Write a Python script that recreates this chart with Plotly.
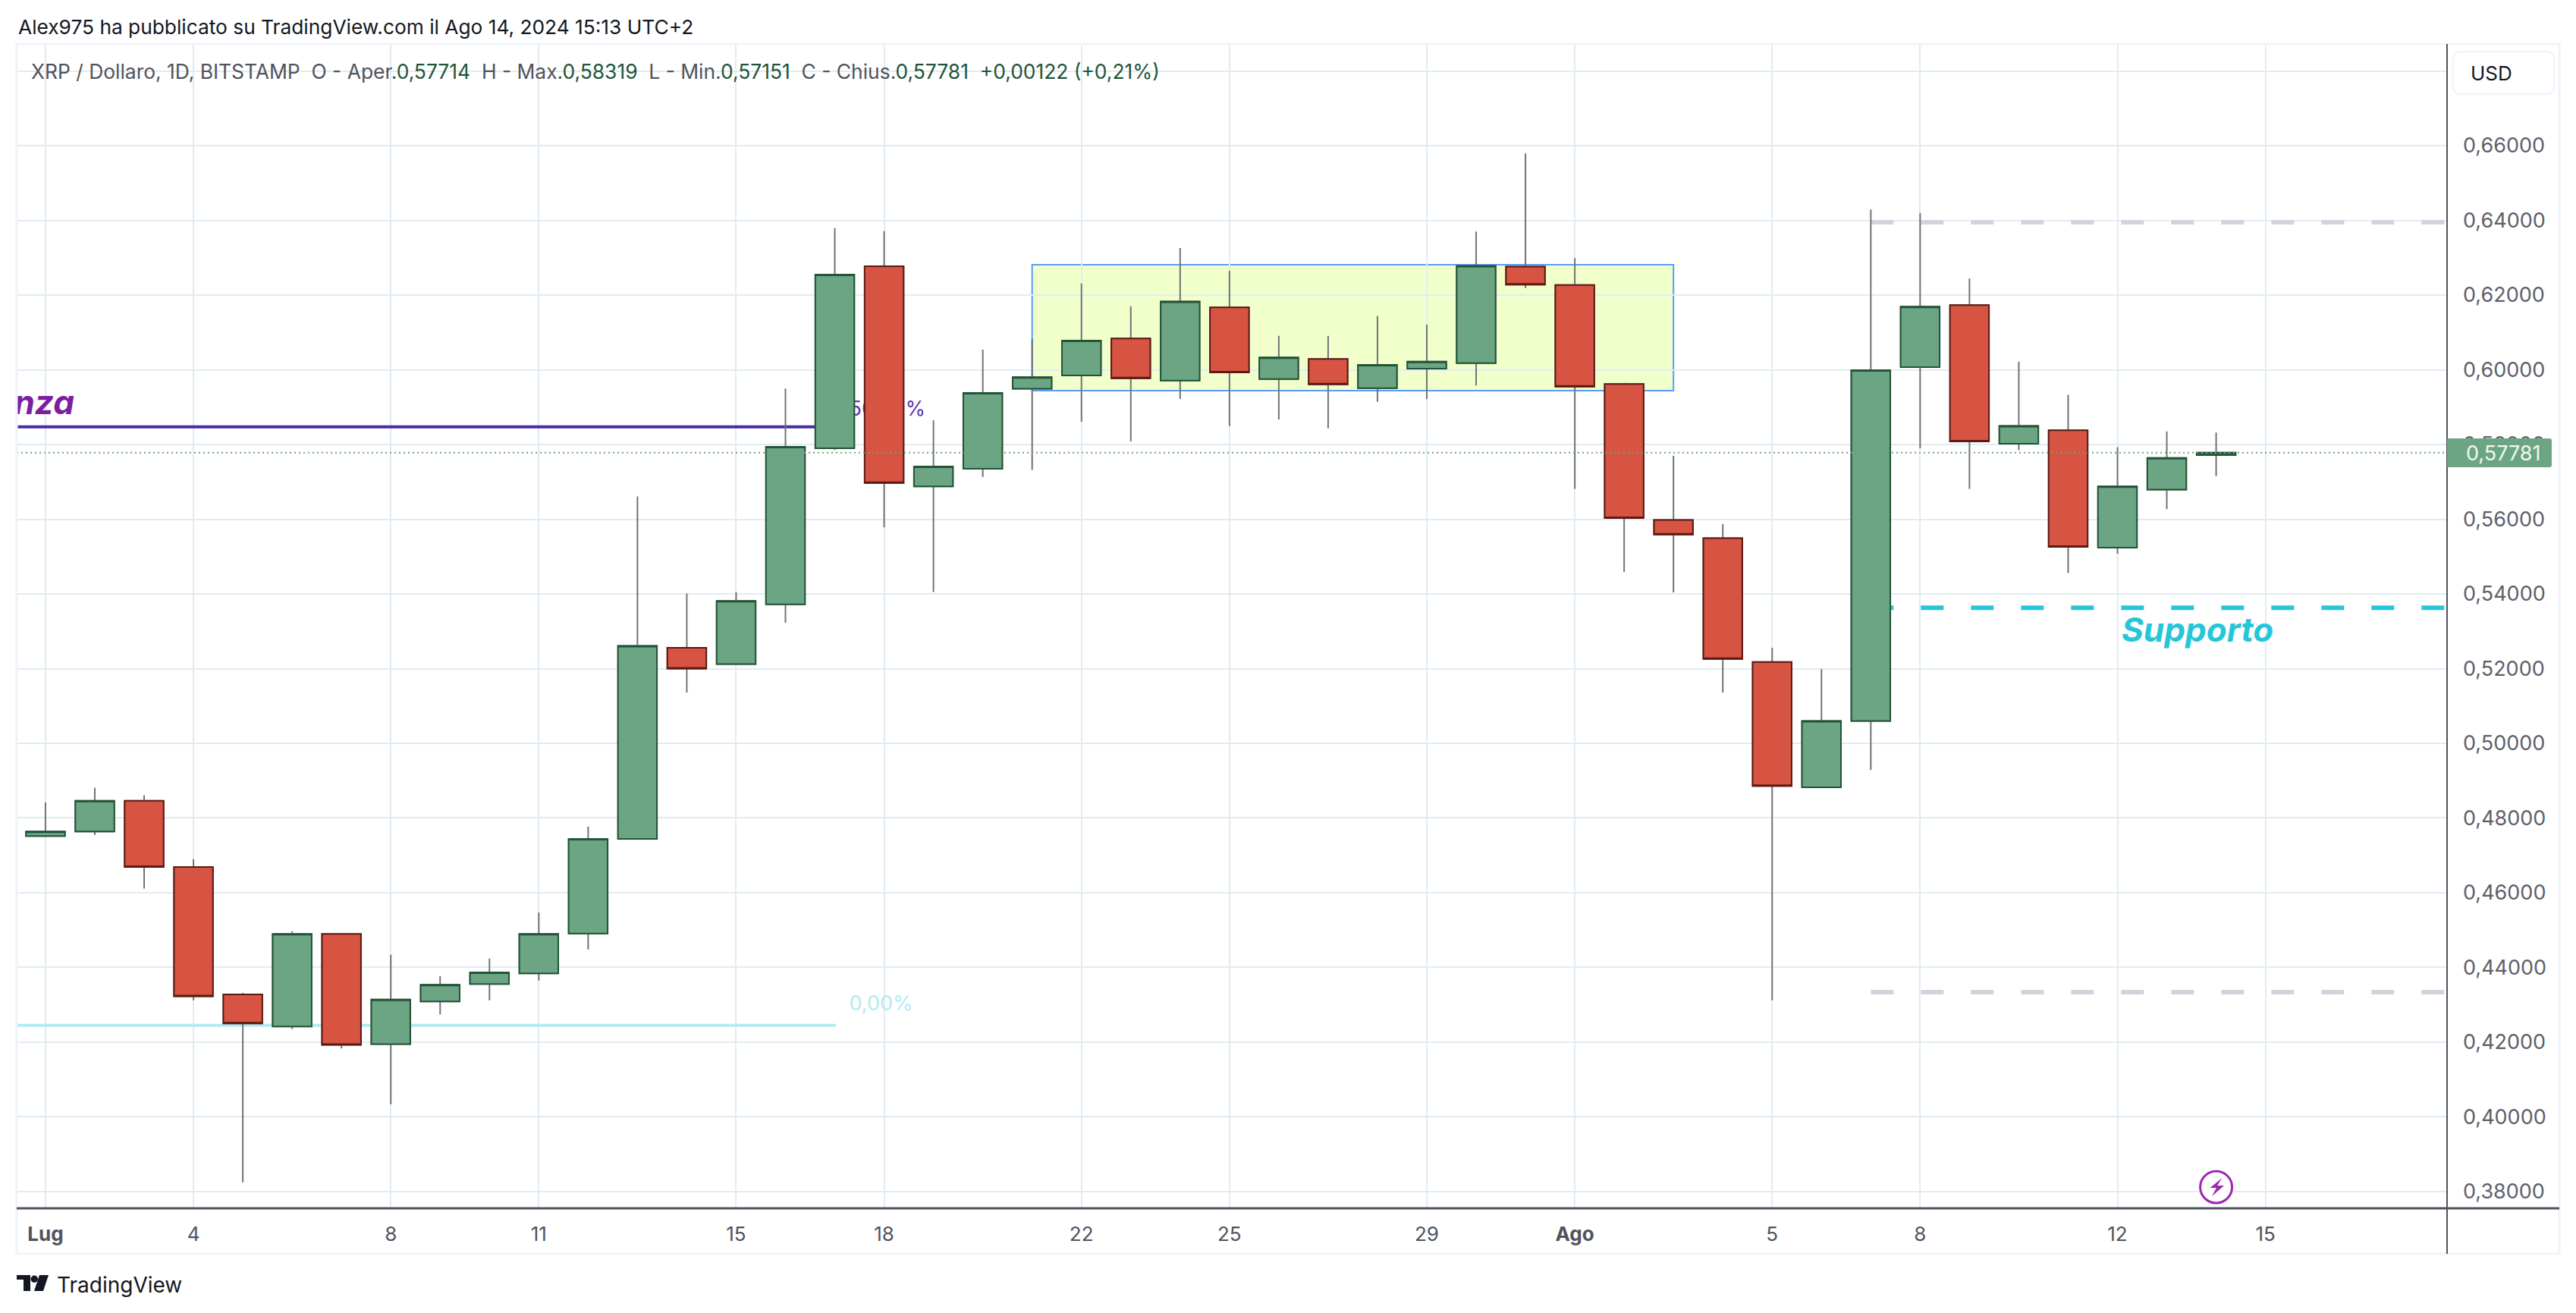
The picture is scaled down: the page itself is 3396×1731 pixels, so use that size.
import pandas as pd
import plotly.graph_objects as go

# daily candles
dates = pd.date_range("2024-07-01", "2024-08-14", freq="D").strftime("%Y-%m-%d").tolist()
opens = [.4752, .4764, .4846, .4669, .4328, .4242, .4490, .4195, .4309, .4356, .4384, .4491, .4744, .5256, .5212,
         .5372, .5790, .6277, .5688, .5735, .5949, .5985, .6084, .5971, .6167, .5975, .6029, .5951, .6003, .6018,
         .6276, .6227, .5962, .5598, .5549, .5218, .4882, .5060, .6007, .6173, .5802, .5838, .5524, .5679, .57714]
highs = [.4842, .4881, .4861, .4690, .4332, .4497, .4490, .4434, .4377, .4424, .4547, .4777, .5661, .5401, .5405,
         .5950, .6379, .6371, .5865, .6054, .6082, .6231, .6170, .6326, .6265, .6091, .6091, .6144, .6121, .6370,
         .6579, .6299, .5965, .5770, .5587, .5256, .5199, .6429, .6420, .6244, .6022, .5933, .5793, .5835, .58319]
lows = [.4749, .4755, .4611, .4312, .3825, .4235, .4183, .4034, .4274, .4312, .4365, .4448, .4744, .5136, .5212,
        .5323, .5786, .5578, .5405, .5713, .5732, .5861, .5808, .5922, .5849, .5867, .5843, .5914, .5922, .5958,
        .6219, .5681, .5459, .5404, .5136, .4312, .4882, .4929, .5790, .5681, .5785, .5456, .5507, .5627, .57151]
closes = [.4764, .4846, .4669, .4323, .4250, .4490, .4193, .4314, .4354, .4387, .4490, .4744, .5261, .5200, .5381,
          .5794, .6255, .5697, .5741, .5938, .5980, .6078, .5977, .6183, .5993, .6033, .5961, .6013, .6022, .6278,
          .6228, .5955, .5603, .5559, .5226, .4886, .5060, .5999, .6169, .5808, .5850, .5526, .5688, .5764, .57781]

x_tick_dates = ["2024-07-01", "2024-07-04", "2024-07-08", "2024-07-11", "2024-07-15", "2024-07-18", "2024-07-22",
                "2024-07-25", "2024-07-29", "2024-08-01", "2024-08-05", "2024-08-08", "2024-08-12", "2024-08-15"]
x_tick_labels = ["<b>Lug</b>", "4", "8", "11", "15", "18", "22", "25", "29", "<b>Ago</b>", "5", "8", "12", "15"]
y_ticks = [.38, .40, .42, .44, .46, .48, .50, .52, .54, .56, .58, .60, .62, .64, .66, .68]
y_tick_labels = ["0,38000", "0,40000", "0,42000", "0,44000", "0,46000", "0,48000", "0,50000", "0,52000", "0,54000",
                 "0,56000", "0,58000", "0,60000", "0,62000", "0,64000", "0,66000", ""]

last_price = 0.57781
fib_50 = 0.5847
fib_0 = 0.4245
support = 0.5363
range_top = 0.6395
range_bottom = 0.4334
box_top = 0.6281
box_bottom = 0.5944

X_RANGE = ["2024-06-30 10:00", "2024-08-18 16:20"]
Y_RANGE = [0.37553, 0.68721]

GREEN, GREEN_DARK = "#6ba583", "#225437"
RED, RED_DARK = "#d75442", "#5b1a13"
WICK = "#737375"
GRID = "#e1ecf2"
FRAME = "#f0f3fa"
AXIS = "#50535e"
TEXT = "#131722"
TICK = "#5d606b"
FONT = "Inter"

# plot area in page pixels
L, R, T, B = 22, 3226, 58, 1593


def px_x(x):
    return (x - L) / (R - L)


def px_y(y):
    return (B - y) / (B - T)


def deco(points, close=True, **style):
    # decoration drawn in page pixels, anchored on the plot's lower left corner
    d = ""
    for i, p in enumerate(points):
        if p[0] == "Q":
            d += f"Q{p[1] - L},{B - p[2]} {p[3] - L},{B - p[4]} "
        else:
            d += f"{'M' if i == 0 else 'L'}{p[0] - L},{B - p[1]} "
    return dict(type="path", path=d + ("Z" if close else ""), xref="paper", yref="paper",
                xsizemode="pixel", ysizemode="pixel", xanchor=0, yanchor=0, **style)


def text_px(x, y, text, size, color=TEXT, anchor="left", **kw):
    return dict(xref="paper", yref="paper", x=px_x(x), y=px_y(y), text=text, showarrow=False, xanchor=anchor,
                yanchor="middle", font=dict(family=FONT, size=size, color=color), **kw)


fig = go.Figure()

# labels and levels that sit behind the candles
fig.add_trace(go.Scatter(x=["2024-06-30 10:00", "2024-07-17 00:30"], y=[fib_50, fib_50], mode="lines",
                         line=dict(color="#4a2ba3", width=4), hoverinfo="skip"))
fig.add_trace(go.Scatter(x=["2024-06-30 10:00", "2024-07-17 00:30"], y=[fib_0, fib_0], mode="lines",
                         line=dict(color="#b2ebf2", width=4), hoverinfo="skip"))
fig.add_trace(go.Scatter(x=["2024-07-17 07:00"], y=[0.5890], mode="text", text=["50,00%"], textposition="middle right",
                         textfont=dict(family=FONT, size=27, color="#5e35b1")))
fig.add_trace(go.Scatter(x=["2024-07-17 07:00"], y=[0.4298], mode="text", text=["0,00%"], textposition="middle right",
                         textfont=dict(family=FONT, size=27, color="#b2ebf2")))
fig.add_trace(go.Scatter(x=["2024-07-01 14:00"], y=[0.5904], mode="text", text=["Resistenza"],
                         textposition="middle left", cliponaxis=True,
                         textfont=dict(family=FONT, size=44, color="#7b1fa2", style="italic", weight="bold")))
for level, color, width in [(range_top, "#d1d4dc", 6), (range_bottom, "#d1d4dc", 6), (support, "#26c6da", 6)]:
    fig.add_trace(go.Scatter(x=["2024-08-07", X_RANGE[1]], y=[level, level], mode="lines", hoverinfo="skip",
                             line=dict(color=color, width=width, dash="30px,36px")))
fig.add_trace(go.Scatter(x=["2024-08-13 15:00"], y=[0.5295], mode="text", text=["Supporto"], textposition="middle center",
                         textfont=dict(family=FONT, size=44, color="#26c6da", style="italic", weight="bold")))

# wicks first, then the bodies with their own border colour
candle_axes = dict(xaxis="x2", yaxis="y2", whiskerwidth=0)
fig.add_trace(go.Candlestick(x=dates, open=opens, high=highs, low=lows, close=closes,
                             increasing=dict(line=dict(color=WICK, width=2), fillcolor=GREEN),
                             decreasing=dict(line=dict(color=WICK, width=2), fillcolor=RED), **candle_axes))
fig.add_trace(go.Candlestick(x=dates, open=opens, close=closes,
                             high=[max(o, c) for o, c in zip(opens, closes)],
                             low=[min(o, c) for o, c in zip(opens, closes)],
                             increasing=dict(line=dict(color=GREEN_DARK, width=2), fillcolor=GREEN),
                             decreasing=dict(line=dict(color=RED_DARK, width=2), fillcolor=RED), **candle_axes))
fig.add_trace(go.Scatter(x=X_RANGE, y=[last_price, last_price], mode="lines", xaxis="x2", yaxis="y2", hoverinfo="skip",
                         line=dict(color=GREEN, width=2, dash="2px,4px")))
fig.add_trace(go.Scatter(x=["2024-08-14"], y=[0.3812], mode="markers", xaxis="x2", yaxis="y2", hoverinfo="skip",
                         marker=dict(size=42, color="white", line=dict(color="#9c27b0", width=3))))

shapes = [
    dict(type="rect", layer="below", xref="x", yref="y", x0="2024-07-21", x1="2024-08-03", y0=box_bottom, y1=box_top,
         fillcolor="rgba(237,255,190,0.8)", line=dict(color="#5b9cf6", width=2)),
    # outer frame and axis lines
    deco([(22, 58), (3374, 58), (3374, 1653), (22, 1653)], line=dict(color=FRAME, width=3)),
    deco([(22, 1593), (3374, 1593)], close=False, line=dict(color=AXIS, width=3)),
    deco([(3226, 58), (3226, 1653)], close=False, line=dict(color=AXIS, width=2)),
    # USD button
    deco([(3244, 68), (3357, 68), ("Q", 3367, 68, 3367, 78), (3367, 114), ("Q", 3367, 124, 3357, 124), (3244, 124),
          ("Q", 3234, 124, 3234, 114), (3234, 78), ("Q", 3234, 68, 3244, 68)],
         fillcolor="white", line=dict(color=FRAME, width=2)),
    # last price tag
    deco([(3226, 578), (3361, 578), ("Q", 3364, 578, 3364, 581), (3364, 613), ("Q", 3364, 616, 3361, 616), (3226, 616)],
         fillcolor=GREEN, line=dict(width=0)),
    # lightning icon
    deco([(2929.5, 1553), (2913.5, 1566), (2922, 1566), (2916, 1577), (2932, 1563), (2923, 1563)],
         fillcolor="#9c27b0", line=dict(width=0)),
    # TradingView logo
    deco([(22, 1681), (40, 1681), (40, 1702), (31, 1702), (31, 1687), (22, 1687)], fillcolor=TEXT, line=dict(width=0)),
    deco([(52, 1681), (64, 1681), (57, 1702), (45, 1702)], fillcolor=TEXT, line=dict(width=0)),
    dict(type="circle", xref="paper", yref="paper", x0=px_x(40.5), x1=px_x(50), y0=px_y(1691), y1=px_y(1681.5),
         fillcolor=TEXT, line=dict(width=0)),
]

header = "Alex975 ha pubblicato su TradingView.com il Ago 14, 2024 15:13 UTC+2"
val = '<span style="color:#22543a">%s</span>'
legend = ("XRP / Dollaro, 1D, BITSTAMP\u00a0\u00a0O - Aper." + val % "0,57714" + "\u00a0\u00a0H - Max." + val % "0,58319"
          + "\u00a0\u00a0L - Min." + val % "0,57151" + "\u00a0\u00a0C - Chius." + val % "0,57781"
          + val % "\u00a0\u00a0+0,00122 (+0,21%)")

annotations = [
    text_px(22, 35, header, 26.3),
    text_px(39, 94, legend, 26.4, color=AXIS),
    text_px(3255, 96, "USD", 26),
    text_px(3352, 597, "0,57781", 27, color="#f2f7f4", anchor="right"),
    text_px(73, 1694, "TradingView", 28),
]

fig.update_layout(
    width=3396, height=1731, showlegend=False, paper_bgcolor="white", plot_bgcolor="white",
    margin=dict(l=L, r=3396 - R, t=T, b=1731 - B, pad=0), boxgap=0.21, boxgroupgap=0, boxmode="overlay",
    font=dict(family=FONT), shapes=shapes, annotations=annotations,
    xaxis=dict(type="date", range=X_RANGE, tickmode="array", tickvals=x_tick_dates, ticktext=x_tick_labels,
               showgrid=True, gridcolor=GRID, gridwidth=2, zeroline=False, showline=False, ticks="", tickangle=0,
               ticklabelstandoff=16, tickfont=dict(family=FONT, size=26, color=AXIS)),
    yaxis=dict(range=Y_RANGE, side="right", tickmode="array", tickvals=y_ticks, ticktext=y_tick_labels,
               showgrid=True, gridcolor=GRID, gridwidth=2, zeroline=False, showline=False, ticks="",
               ticklabelstandoff=20, tickfont=dict(family=FONT, size=27, color=TICK)),
    xaxis2=dict(type="date", range=X_RANGE, overlaying="x", visible=False, rangeslider=dict(visible=False)),
    yaxis2=dict(range=Y_RANGE, overlaying="y", visible=False),
)

fig.write_html("out.html", config=dict(displayModeBar=False),
               post_script="document.body.style.margin='0';document.body.style.overflow='hidden';")
